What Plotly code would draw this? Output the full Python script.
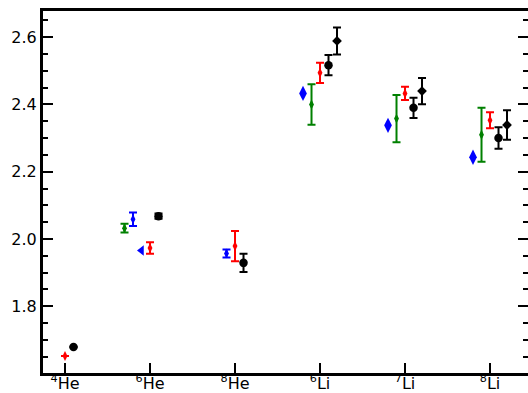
import plotly.graph_objects as go

nuclei = ["4He", "6He", "8He", "6Li", "7Li", "8Li"]
tick_text = ["<sup>4</sup>He", "<sup>6</sup>He", "<sup>8</sup>He",
             "<sup>6</sup>Li", "<sup>7</sup>Li", "<sup>8</sup>Li"]

# red diamonds
red_cats = ["4He", "6He", "8He", "6Li", "7Li", "8Li"]
red_vals = [1.652, 1.973, 1.979, 2.494, 2.433, 2.353]
red_err = [0.0, 0.017, 0.045, 0.030, 0.020, 0.024]

# black circles
bc_cats = ["4He", "6He", "8He", "6Li", "7Li", "8Li"]
bc_vals = [1.679, 2.068, 1.929, 2.517, 2.390, 2.300]
bc_err = [0.0, 0.008, 0.027, 0.030, 0.030, 0.032]

# black diamonds
bd_cats = ["6Li", "7Li", "8Li"]
bd_vals = [2.589, 2.440, 2.339]
bd_err = [0.040, 0.039, 0.044]

# green (He)
gh_cats = ["6He"]
gh_vals = [2.032]
gh_err = [0.013]

# green (Li)
gl_cats = ["6Li", "7Li", "8Li"]
gl_vals = [2.400, 2.358, 2.310]
gl_err = [0.060, 0.070, 0.080]

# blue small diamond with error (6He)
bh6_cats = ["6He"]
bh6_vals = [2.059]
bh6_err = [0.020]

# blue left triangle (6He)
bt_cats = ["6He"]
bt_vals = [1.966]

# blue small (8He)
bh8_cats = ["8He"]
bh8_vals = [1.957]
bh8_err = [0.012]

# blue large diamonds (Li)
bl_cats = ["6Li", "7Li", "8Li"]
bl_vals = [2.433, 2.338, 2.243]

RED = "#ff0000"
BLACK = "#000000"
GREEN = "#008000"
BLUE = "#0000ff"

fig = go.Figure()


def add(cats, vals, err, offset, color, symbol, size):
    xs = [nuclei.index(c) + offset for c in cats]
    kw = {}
    if err is not None:
        kw["error_y"] = dict(type="data", array=err, visible=True,
                             color=color, thickness=2, width=4)
    fig.add_trace(go.Scatter(
        x=xs, y=vals, mode="markers",
        marker=dict(color=color, symbol=symbol, size=size, line=dict(width=0)),
        showlegend=False, **kw))


add(gh_cats, gh_vals, gh_err, -0.3, GREEN, "diamond-tall", 7)
add(gl_cats, gl_vals, gl_err, -0.1, GREEN, "diamond-tall", 7)
add(bh6_cats, bh6_vals, bh6_err, -0.2, BLUE, "diamond-tall", 7)
add(bt_cats, bt_vals, None, -0.1, BLUE, "triangle-left", 9)
add(bh8_cats, bh8_vals, bh8_err, -0.1, BLUE, "diamond-tall", 7)
add(bl_cats, bl_vals, None, -0.2, BLUE, "diamond-tall", 11)
add(red_cats, red_vals, red_err, 0.0, RED, "diamond-tall", 7)
add(bc_cats, bc_vals, bc_err, 0.1, BLACK, "circle", 8.5)
add(bd_cats, bd_vals, bd_err, 0.2, BLACK, "diamond", 7.5)

fig.update_layout(
    width=528, height=393,
    margin=dict(l=43, r=0, t=11, b=20),
    plot_bgcolor="white", paper_bgcolor="white",
    font=dict(family="DejaVu Sans", size=16, color="black"),
    xaxis=dict(range=[-0.259, 5.447], tickvals=list(range(len(nuclei))),
               ticktext=tick_text, ticks="inside", ticklen=10, tickwidth=2,
               tickcolor="black", showline=True, linewidth=3, linecolor="black",
               mirror=True, showgrid=False, zeroline=False, automargin=False,
               ticklabelstandoff=-6),
    yaxis=dict(range=[1.6015, 2.678], tickvals=[1.8, 2.0, 2.2, 2.4, 2.6],
               ticktext=["1.8", "2.0", "2.2", "2.4", "2.6"],
               ticks="inside", ticklen=10, tickwidth=2, tickcolor="black",
               minor=dict(ticks="inside", dtick=0.05, tick0=1.6, ticklen=5,
                          tickwidth=1.5, tickcolor="black", showgrid=False),
               showline=True, linewidth=3, linecolor="black", mirror="ticks",
               showgrid=False, zeroline=False, automargin=False),
)

fig.write_html("out.html")
